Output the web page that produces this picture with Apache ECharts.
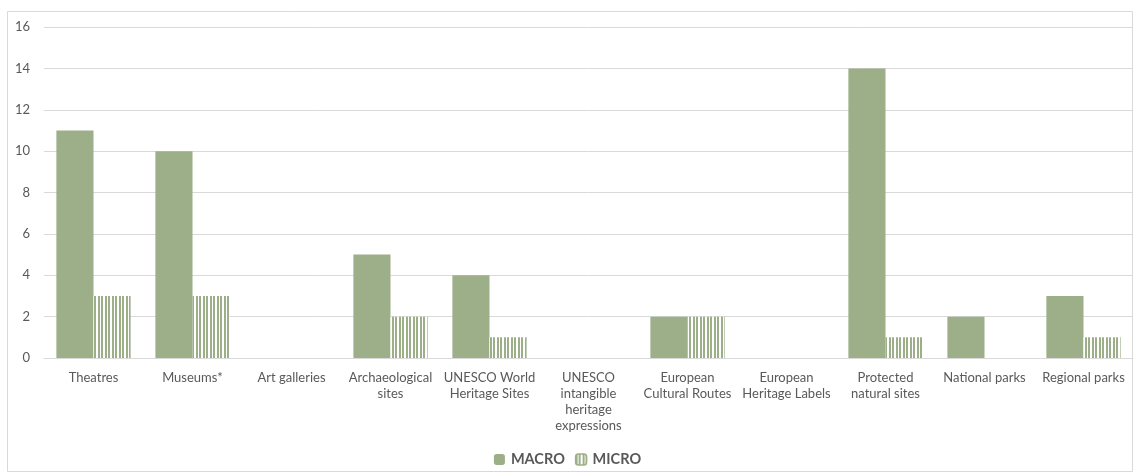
<!DOCTYPE html>
<html><head><meta charset="utf-8">
<script src="https://cdn.jsdelivr.net/npm/echarts@6/dist/echarts.min.js"></script>
<style>html,body{margin:0;padding:0;background:#fff}#c{width:1135px;height:474px}</style>
</head><body><div id="c"></div>
<script>
const categories = ["Theatres","Museums*","Art galleries","Archaeological\nsites","UNESCO World\nHeritage Sites","UNESCO\nintangible\nheritage\nexpressions","European\nCultural Routes","European\nHeritage Labels","Protected\nnatural sites","National parks","Regional parks"];
const macro = [11,10,0,5,4,0,2,0,14,2,3];
const micro = [3,3,0,2,1,0,2,0,1,0,1];
const yTicks = {min:0,max:16,interval:2};

const green = '#9caf88';
const pc = document.createElement('canvas');
pc.width = 7; pc.height = 4;
const ctx = pc.getContext('2d');
ctx.fillStyle = '#ffffff'; ctx.fillRect(0,0,7,4);
ctx.fillStyle = green; ctx.fillRect(0,0,2,4); ctx.fillRect(3,0,2,4);

const chart = echarts.init(document.getElementById('c'));
const font = 'Lato, "Noto Sans", sans-serif';
chart.setOption({
  animation:false,
  textStyle:{fontFamily:font},
  graphic:[{type:'rect',shape:{x:7.5,y:11.5,width:1125,height:460},style:{fill:'none',stroke:'#d9d9d9',lineWidth:1},silent:true,z:-1}],
  grid:{left:44,right:2,top:27,bottom:116,containLabel:false},
  legend:{bottom:2,left:'center',itemWidth:11,itemHeight:11,itemGap:10,
    textStyle:{color:'#595959',fontSize:14.5,fontWeight:'bold',fontFamily:font,padding:[0,0,0,1]},
    data:[{name:'MACRO'},{name:'MICRO',itemStyle:{borderColor:green,borderWidth:1.5}}]},
  xAxis:{type:'category',data:categories,
    axisLine:{lineStyle:{color:'#d9d9d9'}},axisTick:{show:false},
    axisLabel:{color:'#595959',fontSize:13,interval:0,lineHeight:16,margin:12,fontFamily:font}},
  yAxis:{type:'value',min:yTicks.min,max:yTicks.max,interval:yTicks.interval,
    axisLine:{show:false},axisTick:{show:false},
    splitLine:{lineStyle:{color:'#d9d9d9'}},
    axisLabel:{color:'#595959',fontSize:13,margin:14,fontFamily:font}},
  series:[
    {name:'MACRO',type:'bar',data:macro,barGap:'0%',barCategoryGap:'25%',itemStyle:{color:green}},
    {name:'MICRO',type:'bar',data:micro,itemStyle:{color:{image:pc,repeat:'repeat'}}}
  ]
});
</script></body></html>
